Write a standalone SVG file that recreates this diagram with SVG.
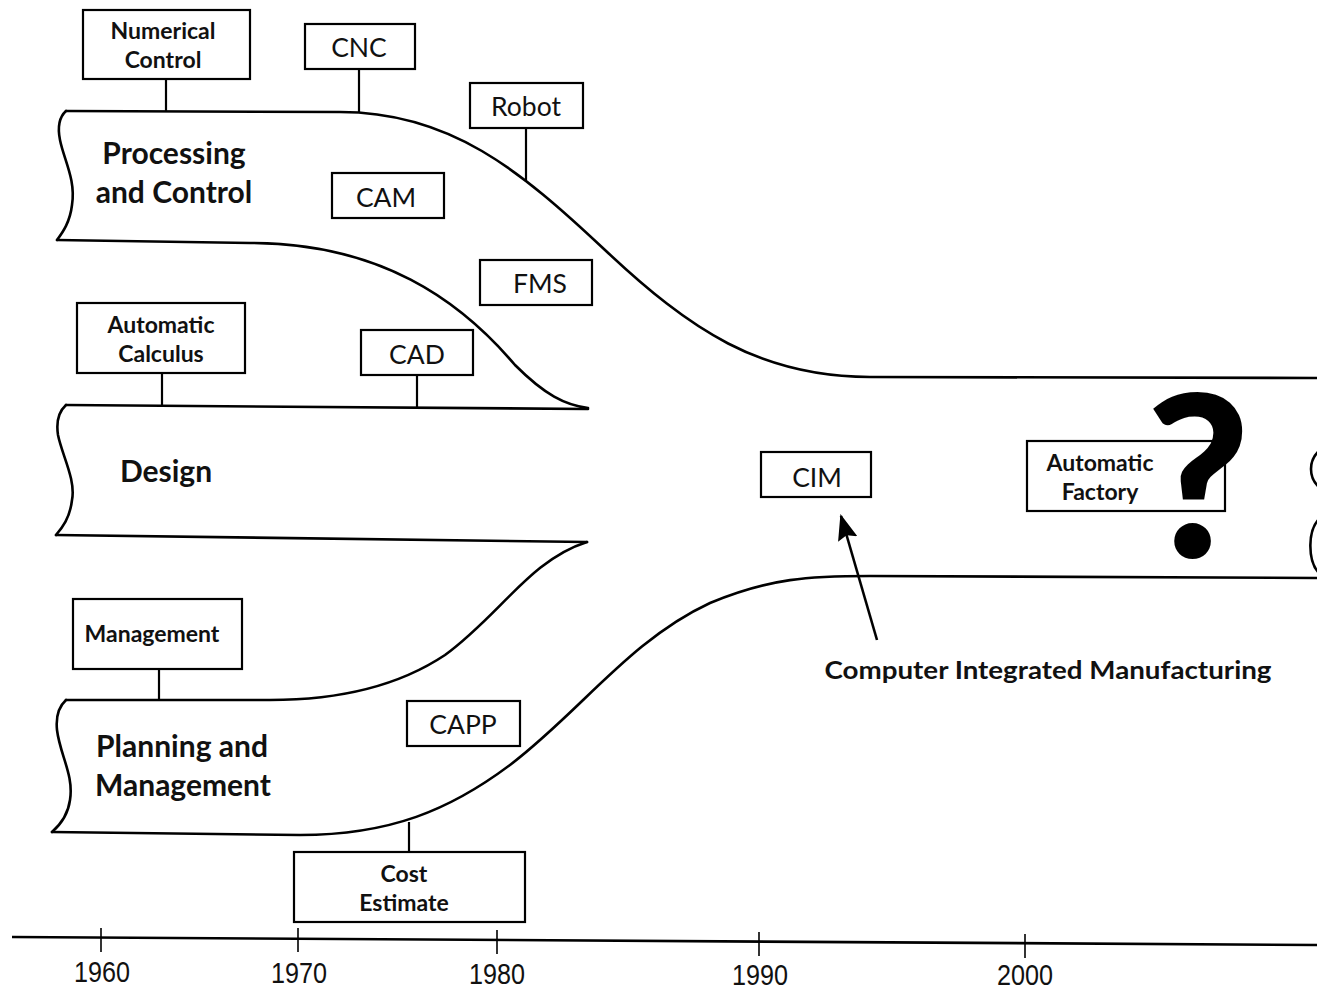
<svg xmlns="http://www.w3.org/2000/svg" width="1317" height="992" viewBox="0 0 1317 992">
  <style>
    .band { fill: none; stroke: #000; stroke-width: 2.6; stroke-linejoin: round; stroke-linecap: round; }
    .box { fill: #fff; stroke: #000; stroke-width: 2.2; }
    .stem { stroke: #000; stroke-width: 2.2; }
    .axis { stroke: #000; stroke-width: 2.6; fill: none; }
    .tick { stroke: #000; stroke-width: 1.6; }
    .big { font-family: Lato, "Liberation Sans", sans-serif; font-weight: 700; font-size: 30px; fill: #111; text-anchor: middle; }
    .lbl { font-family: Lato, "Liberation Sans", sans-serif; font-weight: 400; font-size: 26.5px; fill: #111; text-anchor: middle; dominant-baseline: central; }
    .sml { font-family: Lato, "Liberation Sans", sans-serif; font-weight: 700; font-size: 23px; fill: #111; text-anchor: middle; dominant-baseline: central; }
    .year { font-family: "Liberation Sans Narrow", "Liberation Sans", sans-serif; font-stretch: condensed; font-size: 30px; fill: #111; text-anchor: middle; }
    .note { font-family: Lato, "Liberation Sans", sans-serif; font-weight: 700; font-size: 25px; fill: #111; text-anchor: middle; dominant-baseline: central; }
  </style>
  <defs>
    <marker id="head" viewBox="0 0 26 20" refX="24" refY="10" markerWidth="26" markerHeight="20" markerUnits="userSpaceOnUse" orient="auto">
      <path d="M0,0 L26,10 L0,20 L4,10 z" fill="#000"/>
    </marker>
  </defs>
  <rect width="1317" height="992" fill="#fff"/>

  <!-- Streams (bands) -->
  <g id="band-processing">
    <path class="band" d="M66,111 Q56,120 60,140 C64,160 76,180 72,205 C70,222 63,232 57,240"/>
    <path class="band" d="M66,111 L340,112 C450,112 520,170 605,250 C690,330 760,377 870,377 L1320,378"/>
    <path class="band" d="M57,240 L250,243 C380,243 460,300 515,365 C545,395 565,405 588,408"/>
    <text class="big" x="174" y="164">Processing</text>
    <text class="big" x="174" y="203">and Control</text>
  </g>
  <g id="band-design">
    <path class="band" d="M66,405 Q55,415 58,435 C62,455 76,480 72,500 C70,518 62,528 56,535"/>
    <path class="band" d="M66,405 L588,409"/>
    <path class="band" d="M56,535 L587,542"/>
    <text class="big" x="166" y="482">Design</text>
  </g>
  <g id="band-planning">
    <path class="band" d="M66,700 Q55,710 57,730 C60,755 74,775 70,800 C68,815 60,825 52,832"/>
    <path class="band" d="M66,700 L270,700 C340,700 400,685 445,655 C500,615 530,560 587,542"/>
    <path class="band" d="M52,832 L300,835 C390,835 450,810 510,765 C580,712 630,640 710,603 C770,578 810,576 870,576 L1320,578"/>
    <text class="big" x="182" y="757">Planning and</text>
    <text class="big" x="183" y="796">Management</text>
  </g>
  <g id="band-end">
    <path class="band" d="M1320,450 C1308,460 1308,478 1320,488"/>
    <path class="band" d="M1320,518 C1307,530 1308,560 1318,572"/>
  </g>

  <!-- Technology labels -->
  <g id="numerical-control">
    <line class="stem" x1="166" y1="79" x2="166" y2="111"/>
    <rect class="box" x="83" y="10" width="167" height="69"/>
    <text class="sml" x="163" y="30">Numerical</text>
    <text class="sml" x="163" y="59">Control</text>
  </g>
  <g id="cnc">
    <line class="stem" x1="359" y1="69" x2="359" y2="112"/>
    <rect class="box" x="305" y="24" width="110" height="45"/>
    <text class="lbl" x="359" y="47">CNC</text>
  </g>
  <g id="robot">
    <line class="stem" x1="526" y1="128" x2="526" y2="182"/>
    <rect class="box" x="470" y="83" width="113" height="45"/>
    <text class="lbl" x="526" y="106">Robot</text>
  </g>
  <g id="cam">
    <rect class="box" x="332" y="173" width="112" height="45"/>
    <text class="lbl" x="386" y="197">CAM</text>
  </g>
  <g id="fms">
    <rect class="box" x="480" y="260" width="112" height="45"/>
    <text class="lbl" x="540" y="283">FMS</text>
  </g>
  <g id="automatic-calculus">
    <line class="stem" x1="162" y1="373" x2="162" y2="405"/>
    <rect class="box" x="77" y="303" width="168" height="70"/>
    <text class="sml" x="161" y="324">Automatic</text>
    <text class="sml" x="161" y="353">Calculus</text>
  </g>
  <g id="cad">
    <line class="stem" x1="417" y1="375" x2="417" y2="407"/>
    <rect class="box" x="361" y="330" width="112" height="45"/>
    <text class="lbl" x="417" y="354">CAD</text>
  </g>
  <g id="cim">
    <rect class="box" x="761" y="452" width="110" height="45"/>
    <text class="lbl" x="817" y="477">CIM</text>
  </g>
  <g id="automatic-factory">
    <rect class="box" x="1027" y="441" width="198" height="70"/>
    <text class="sml" x="1100" y="462">Automatic</text>
    <text class="sml" x="1100" y="491">Factory</text>
    <text x="1198" y="557" text-anchor="middle" font-family="Lato, 'Liberation Sans', sans-serif" font-weight="900" font-size="225" fill="#000">?</text>
  </g>
  <g id="management">
    <line class="stem" x1="159" y1="669" x2="159" y2="700"/>
    <rect class="box" x="73" y="599" width="169" height="70"/>
    <text class="sml" x="152" y="633">Management</text>
  </g>
  <g id="capp">
    <rect class="box" x="407" y="701" width="113" height="45"/>
    <text class="lbl" x="463" y="724">CAPP</text>
  </g>
  <g id="cost-estimate">
    <line class="stem" x1="409" y1="822" x2="409" y2="852"/>
    <rect class="box" x="294" y="852" width="231" height="70"/>
    <text class="sml" x="404" y="873">Cost</text>
    <text class="sml" x="404" y="902">Estimate</text>
  </g>

  <!-- Callout -->
  <g id="connectors">
    <line x1="877" y1="640" x2="841" y2="516" stroke="#000" stroke-width="2.6" marker-end="url(#head)"/>
  </g>
  <g id="cim-note">
    <text class="note" x="1048" y="669" textLength="447" lengthAdjust="spacingAndGlyphs">Computer Integrated Manufacturing</text>
  </g>

  <!-- Time axis -->
  <g id="timeline">
    <path class="axis" d="M12,937 L1317,945"/>
    <line class="tick" x1="101" y1="928" x2="101" y2="952"/>
    <line class="tick" x1="298" y1="928" x2="298" y2="952"/>
    <line class="tick" x1="497" y1="930" x2="497" y2="954"/>
    <line class="tick" x1="759" y1="932" x2="759" y2="956"/>
    <line class="tick" x1="1025" y1="934" x2="1025" y2="958"/>
    <text class="year" x="102" y="982" textLength="56" lengthAdjust="spacingAndGlyphs">1960</text>
    <text class="year" x="299" y="983" textLength="56" lengthAdjust="spacingAndGlyphs">1970</text>
    <text class="year" x="497" y="984" textLength="56" lengthAdjust="spacingAndGlyphs">1980</text>
    <text class="year" x="760" y="985" textLength="56" lengthAdjust="spacingAndGlyphs">1990</text>
    <text class="year" x="1025" y="985" textLength="56" lengthAdjust="spacingAndGlyphs">2000</text>
  </g>
</svg>
